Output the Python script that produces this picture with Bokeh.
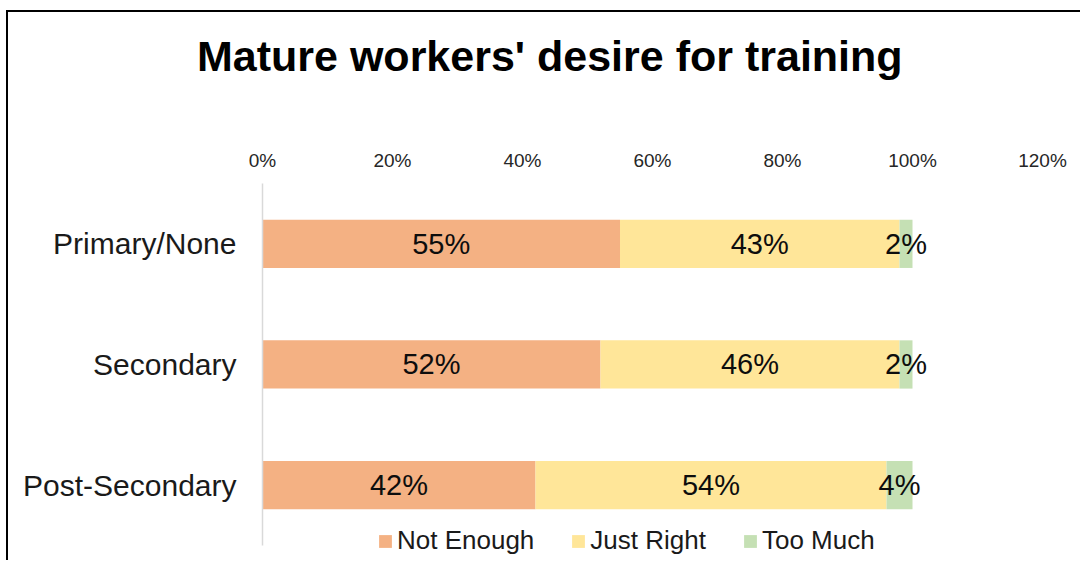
from bokeh.plotting import figure
from bokeh.layouts import column
from bokeh.models import (Range1d, FixedTicker, PrintfTickFormatter, CustomJSTickFormatter,
                          Legend, LegendItem, ColumnDataSource, Div)
from bokeh.core.properties import value
from bokeh.embed import file_html
from bokeh.resources import INLINE

# ---- data ----
categories = ["Primary/None", "Secondary", "Post-Secondary"]
not_enough = [55, 52, 42]
just_right = [43, 46, 54]
too_much = [2, 2, 4]
series_names = ["Not Enough", "Just Right", "Too Much"]
x_ticks = [0, 20, 40, 60, 80, 100, 120]
title_text = "Mature workers' desire for training"

colors = ["#F4B183", "#FFE699", "#C5E0B4"]
FONT = "Liberation Sans"

n = len(categories)
cats_bottom_up = categories[::-1]
# position of each category on the numeric axis (first category on top)
ypos = [n - 1 - i + 0.5 for i in range(n)]

title = Div(text=(f"<div style=\"font-family:'{FONT}';font-weight:bold;font-size:43px;"
                  f"line-height:50px;padding:19px 0 0 189px;color:#000;white-space:nowrap;\">"
                  f"{title_text}</div>"),
            width=1072, height=100, margin=0)

p = figure(width=1072, height=448, output_backend="svg", toolbar_location=None,
           x_range=Range1d(0, 120), y_range=Range1d(-0.1, n),
           x_axis_location="above", margin=0,
           min_border_left=254, min_border_right=38, min_border_top=71,
           min_border_bottom=3)

p.outline_line_color = None
p.xgrid.grid_line_color = None
p.ygrid.grid_line_color = None

# x axis (top)
p.xaxis.ticker = FixedTicker(ticks=x_ticks)
p.xaxis.formatter = PrintfTickFormatter(format="%d%%")
p.xaxis.axis_line_color = None
p.xaxis.major_tick_line_color = None
p.xaxis.minor_tick_line_color = None
p.xaxis.major_tick_out = 0
p.xaxis.major_tick_in = 0
p.xaxis.major_label_standoff = 13
p.xaxis.major_label_text_font = FONT
p.xaxis.major_label_text_font_size = "19px"
p.xaxis.major_label_text_color = "#262626"

# y axis (categories)
p.yaxis.ticker = FixedTicker(ticks=[i + 0.5 for i in range(n)])
p.yaxis.formatter = CustomJSTickFormatter(args=dict(cats=cats_bottom_up),
                                          code="return cats[Math.floor(tick)];")
p.yaxis.bounds = (0, n)
p.yaxis.axis_line_color = "#D9D9D9"
p.yaxis.axis_line_width = 1.5
p.yaxis.major_tick_line_color = None
p.yaxis.minor_tick_line_color = None
p.yaxis.major_tick_out = 0
p.yaxis.major_tick_in = 0
p.yaxis.major_label_standoff = 26
p.yaxis.major_label_text_font = FONT
p.yaxis.major_label_text_font_size = "30px"
p.yaxis.major_label_text_color = "#1a1a1a"

# stacked bars
series = [not_enough, just_right, too_much]
renderers = []
lefts = [0.0] * n
label_x, label_y, label_t = [], [], []
for vals, name, col in zip(series, series_names, colors):
    rights = [l + v for l, v in zip(lefts, vals)]
    src = ColumnDataSource(dict(y=ypos, left=lefts, right=rights))
    r = p.hbar(y="y", left="left", right="right", height=0.4, source=src,
               fill_color=col, line_color=None)
    renderers.append(r)
    for yy, l, v in zip(ypos, lefts, vals):
        label_x.append(l + v / 2.0)
        label_y.append(yy)
        label_t.append(f"{v}%")
    lefts = rights

lsrc = ColumnDataSource(dict(x=label_x, y=label_y, t=label_t))
p.text(x="x", y="y", text="t", source=lsrc, text_align="center",
       text_baseline="middle", text_font=value(FONT),
       text_font_size=value("29px"), text_color="#0d0d0d")

legend = Legend(items=[LegendItem(label=nm, renderers=[r])
                       for nm, r in zip(series_names, renderers)],
                orientation="horizontal", location=(115, 1),
                padding=0, margin=0, spacing=36,
                glyph_width=16, glyph_height=16, label_standoff=4,
                label_text_font=FONT, label_text_font_size="26px",
                label_text_color="#1a1a1a",
                border_line_color=None, background_fill_alpha=0)
p.add_layout(legend)

layout = column(title, p, spacing=0)
layout.styles = {"border-top": "2px solid #000", "border-left": "2px solid #000",
                 "margin-left": "6px", "margin-top": "10px"}

open("out.html", "w").write(file_html(layout, INLINE))
